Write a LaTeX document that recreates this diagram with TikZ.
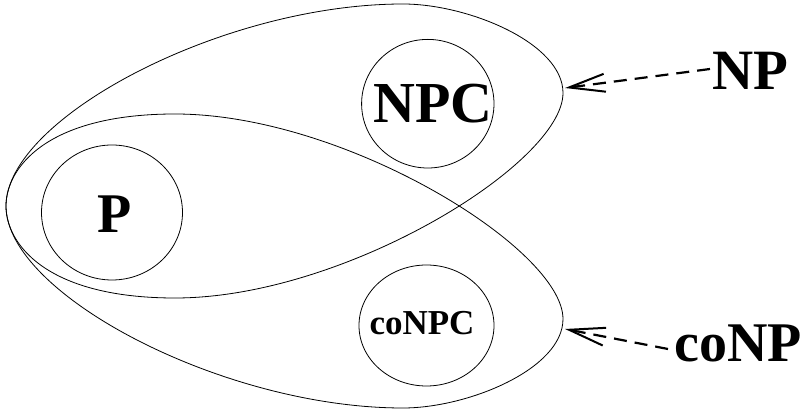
\documentclass[tikz,border=0pt]{standalone}
\usepackage{fontspec}
\setmainfont{Liberation Serif}
\usetikzlibrary{arrows.meta}
\begin{document}
\begin{tikzpicture}[x=1pt,y=1pt,
  outline/.style={line width=0.8pt},
  lbl/.style={font=\bfseries, inner sep=0pt, anchor=base},
  ptr/.style={line width=2.2pt, dash pattern=on 13pt off 8pt,
    -{Straight Barb[length=36pt,width=18pt,line width=2pt]}}]
\useasboundingbox (0,0) rectangle (807,-411);
% NP set
\draw[outline] (6,-206) .. controls (6,-118) and (223,-4) .. (403,-4)
  .. controls (468,-4) and (563,-43) .. (563,-93)
  .. controls (563,-163) and (345,-298) .. (175,-298)
  .. controls (45,-298) and (6,-243) .. cycle;
% coNP set
\draw[outline] (6,-206) .. controls (6,-294) and (223,-408) .. (403,-408)
  .. controls (468,-408) and (563,-369) .. (563,-319)
  .. controls (563,-249) and (345,-114) .. (175,-114)
  .. controls (45,-114) and (6,-169) .. cycle;
% inner classes
\draw[outline] (112,-212.5) ellipse [x radius=70.5, y radius=67.5];
\draw[outline] (427.8,-103.7) ellipse [x radius=66.2, y radius=64.3];
\draw[outline] (426.5,-325.5) ellipse [x radius=67.5, y radius=60.5];
% labels
\node[lbl, font=\bfseries\fontsize{56pt}{60pt}\selectfont] (P) at (115,-233) {P};
\node[lbl, font=\bfseries\fontsize{58pt}{60pt}\selectfont] (NPC) at (433,-123) {NPC};
\node[lbl, font=\bfseries\fontsize{35pt}{40pt}\selectfont] (coNPC) at (422,-335) {coNPC};
\node[lbl, font=\bfseries\fontsize{57pt}{60pt}\selectfont] (NP) at (750.5,-90) {NP};
\node[lbl, font=\bfseries\fontsize{56pt}{60pt}\selectfont] (coNP) at (738,-362) {coNP};
% pointers
\coordinate (nptail) at (710,-69);
\coordinate (nptip) at (565,-88);
\coordinate (conptail) at (668,-349);
\coordinate (conptip) at (565,-329);
\draw[ptr] (nptail) -- (nptip);
\draw[ptr] (conptail) -- (conptip);
\end{tikzpicture}
\end{document}
